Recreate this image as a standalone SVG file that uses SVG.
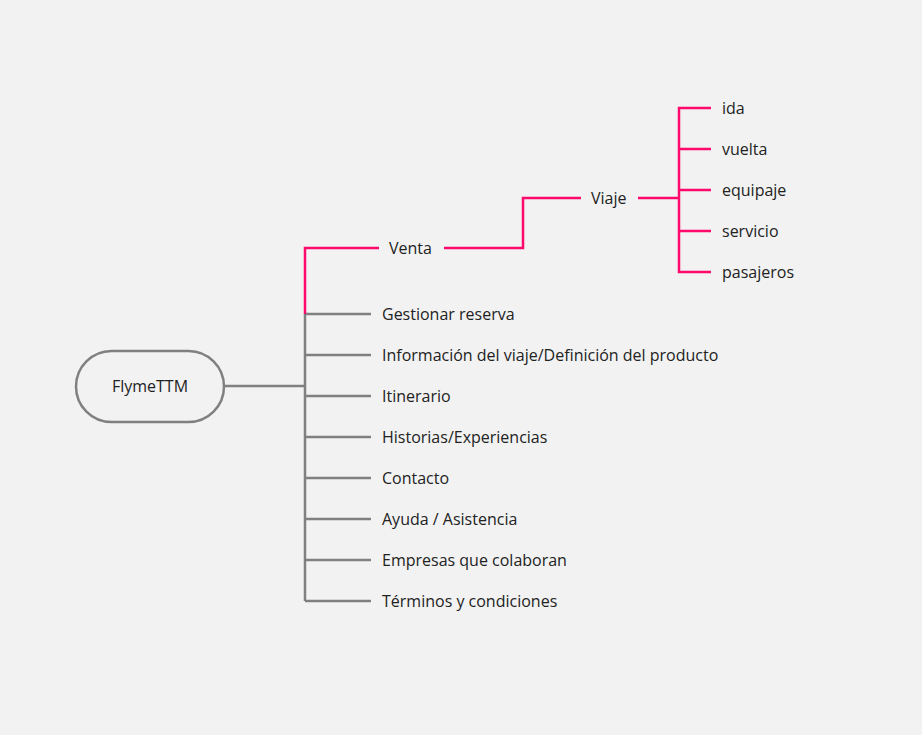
<svg xmlns="http://www.w3.org/2000/svg" width="922" height="735" viewBox="0 0 922 735">
<style>
text{font-family:"Open Sans","Noto Sans",sans-serif;font-size:16px;fill:#222}
.g{stroke:#808080;stroke-width:2.5;fill:none}
.p{stroke:#ff0a6c;stroke-width:2.5;fill:none}
</style>
<rect width="922" height="735" fill="#f2f2f2"/>
<g id="connectors">
<path class="g" d="M224 386H305" stroke-width="3"/>
<path class="g" d="M305 314V601"/>
<path class="g" d="M305 314H371M305 355H371M305 396H371M305 437H371M305 478H371M305 519H371M305 560H371M305 601H371"/>
<path class="p" d="M305 314V248H379"/>
<path class="p" d="M444 248H523V198H581"/>
<path class="p" d="M638 198H679"/>
<path class="p" d="M711 108H679V272H711M679 149H711M679 190H711M679 231H711"/>
</g>
<g id="root"><rect x="76" y="351" width="148" height="71" rx="35.5" fill="#f2f2f2" stroke="#808080" stroke-width="2.5"/><text x="150" y="392" text-anchor="middle">FlymeTTM</text></g>
<g id="venta"><text x="389" y="254">Venta</text></g>
<g id="viaje"><text x="591" y="204">Viaje</text></g>
<g id="ida"><text x="722" y="114">ida</text></g>
<g id="vuelta"><text x="722" y="155">vuelta</text></g>
<g id="equipaje"><text x="722" y="196">equipaje</text></g>
<g id="servicio"><text x="722" y="237">servicio</text></g>
<g id="pasajeros"><text x="722" y="278">pasajeros</text></g>
<g id="gestionar"><text x="382" y="320">Gestionar reserva</text></g>
<g id="informacion"><text x="382" y="361">Información del viaje/Definición del producto</text></g>
<g id="itinerario"><text x="382" y="402">Itinerario</text></g>
<g id="historias"><text x="382" y="443">Historias/Experiencias</text></g>
<g id="contacto"><text x="382" y="484">Contacto</text></g>
<g id="ayuda"><text x="382" y="525">Ayuda / Asistencia</text></g>
<g id="empresas"><text x="382" y="566">Empresas que colaboran</text></g>
<g id="terminos"><text x="382" y="607">Términos y condiciones</text></g>
</svg>
